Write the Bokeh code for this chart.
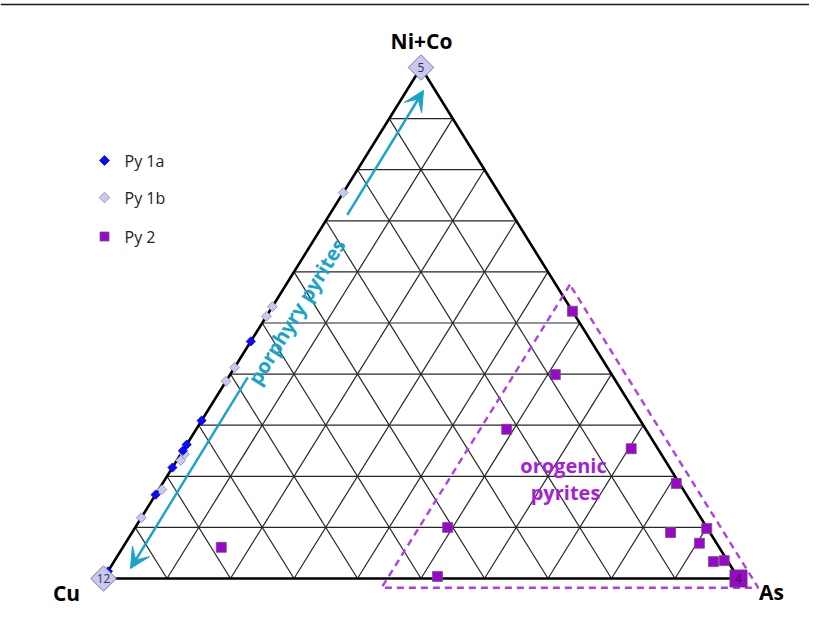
import math
from bokeh.plotting import figure
from bokeh.models import Label, Arrow, VeeHead, ColumnDataSource
from bokeh.core.properties import value
from bokeh.embed import file_html
from bokeh.resources import INLINE

# ---------------- data (percent: Cu, Ni+Co, As) ----------------
py1a_cu = [53.6, 69.1, 73.8, 75.0, 78.3, 83.6, 98.6]
py1a_nico = [46.4, 30.9, 26.2, 25.0, 21.7, 16.4, 1.4]
py1a_as = [0.0, 0.0, 0.0, 0.0, 0.0, 0.0, 0.0]

py1b_cu = [24.5, 46.8, 48.7, 58.7, 61.4, 75.1, 76.3, 82.1, 88.1]
py1b_nico = [75.5, 53.2, 51.3, 41.3, 38.6, 24.3, 23.1, 17.4, 11.9]
py1b_as = [0.0, 0.0, 0.0, 0.0, 0.0, 0.6, 0.6, 0.5, 0.0]

py2_cu = [0.0, 8.9, 21.9, 4.2, 0.5, 40.8, 47.2, 78.4, 6.2, 0.1, 2.7, 2.3, 0.5]
py2_nico = [52.3, 39.9, 29.2, 25.4, 18.6, 10.0, 0.4, 6.1, 9.0, 9.8, 6.9, 3.3, 3.5]
py2_as = [47.7, 51.2, 48.9, 70.4, 80.9, 49.2, 52.4, 15.5, 84.8, 90.1, 90.4, 94.4, 96.0]

# points lying exactly on the apices, with their counts
apex_1b_cu = [100.0, 0.0]
apex_1b_nico = [0.0, 100.0]
apex_1b_as = [0.0, 0.0]
apex_1b_count = ["12", "5"]
apex_2_cu = [0.0]
apex_2_nico = [0.0]
apex_2_as = [100.0]
apex_2_count = ["4"]

grid_levels = [0.1, 0.2, 0.3, 0.4, 0.5, 0.6, 0.7, 0.8, 0.9]

# orogenic field (fractions: minimum As, minimum Cu, minimum Ni+Co)
orogenic_as_min = 0.447
orogenic_cu_min = -0.022
orogenic_nico_min = -0.018

series_names = ["Py 1a", "Py 1b", "Py 2"]
axis_names = ["Cu", "Ni+Co", "As"]


def tern(cu, nico, as_):
    xs, ys = [], []
    for a, b, c in zip(cu, nico, as_):
        t = a + b + c
        xs.append((c + b / 2.0) / t)
        ys.append(b / t)
    return xs, ys


# page-pixel layout helpers (triangle base 635 px wide, 511 px high)
X0, Y0, SX, SY = 103, 578, 635.0, 511.0
def px(x, y):
    return (x - X0) / SX, (Y0 - y) / SY


W, H = 809, 622
p = figure(width=W, height=H, output_backend="svg", toolbar_location=None,
           x_axis_type=None, y_axis_type=None, min_border=0,
           x_range=(-X0 / SX, (W - X0) / SX), y_range=(-(H - Y0) / SY, Y0 / SY))
p.grid.visible = False
p.outline_line_color = None
p.background_fill_color = "white"

# page frame line at the top
fx0, fy0 = px(0, 4)
fx1, _ = px(W, 4)
p.line([fx0, fx1], [fy0, fy0], line_color="#1a1a1a", line_width=1.6)

# ---------------- grid ----------------
gx, gy = [], []
for k in grid_levels:
    for cu, ni, ars in (([1 - k, 0], [k, k], [0, 1 - k]),
                        ([k, k], [1 - k, 0], [0, 1 - k]),
                        ([1 - k, 0], [0, 1 - k], [k, k])):
        x, y = tern(cu, ni, ars)
        gx.append(x)
        gy.append(y)
p.multi_line(gx, gy, line_color="#262626", line_width=1.2)

tx, ty = tern([1, 0, 0, 1], [0, 1, 0, 0], [0, 0, 1, 0])
p.line(tx, ty, line_color="black", line_width=2.6)

# ---------------- orogenic dashed field ----------------
oc = [orogenic_cu_min, 1 - orogenic_nico_min - orogenic_as_min, orogenic_cu_min, orogenic_cu_min]
on = [1 - orogenic_cu_min - orogenic_as_min, orogenic_nico_min, orogenic_nico_min,
      1 - orogenic_cu_min - orogenic_as_min]
oa = [orogenic_as_min, orogenic_as_min, 1 - orogenic_cu_min - orogenic_nico_min, orogenic_as_min]
ox, oy = tern(oc, on, oa)
p.line(ox, oy, line_color="#b43ce6", line_width=2.4, line_dash="7 5")

# ---------------- porphyry arrow ----------------
cyan = "#18a3c8"
a0 = px(130, 568)
a1 = px(423, 90)
def along(t):
    return a0[0] + (a1[0] - a0[0]) * t, a0[1] + (a1[1] - a0[1]) * t
g0 = along(0.40)
g1 = along(0.74)
for gs, ae in ((g0, a0), (g1, a1)):
    p.add_layout(Arrow(x_start=gs[0], y_start=gs[1], x_end=ae[0], y_end=ae[1],
                       line_color=cyan, line_width=2.4,
                       end=VeeHead(size=20, fill_color=cyan, line_color=cyan)))
lx, ly = px(296, 311)
p.add_layout(Label(x=lx, y=ly, text="porphyry pyrites", angle=1.021,
                   text_align="center", text_baseline="middle", text_color=cyan,
                   text_font="Open Sans", text_font_style="bold", text_font_size="20px"))

ox1, oy1 = px(563, 465)
ox2, oy2 = px(565, 492)
for t, (xx, yy) in (("orogenic", (ox1, oy1)), ("pyrites", (ox2, oy2))):
    p.add_layout(Label(x=xx, y=yy, text=t, text_align="center",
                       text_baseline="middle", text_color="#a51fd6", text_font="Open Sans",
                       text_font_style="bold", text_font_size="20px"))

# ---------------- points ----------------
x2, y2 = tern(py2_cu, py2_nico, py2_as)
p.scatter(x2, y2, marker="square", size=10, fill_color="#9a06cc",
          line_color="#6a5a70", line_width=0.8)
x1b, y1b = tern(py1b_cu, py1b_nico, py1b_as)
p.scatter(x1b, y1b, marker="square", angle=math.pi / 4, size=7,
          fill_color="#c8c8f2", line_color="#8a8aaa", line_width=0.8)
x1a, y1a = tern(py1a_cu, py1a_nico, py1a_as)
p.scatter(x1a, y1a, marker="square", angle=math.pi / 4, size=6.5,
          fill_color="#0a0aff", line_color="#0000cc", line_width=0.8)

xa, ya = tern(apex_1b_cu, apex_1b_nico, apex_1b_as)
sa = ColumnDataSource(dict(x=xa, y=ya, t=apex_1b_count))
p.scatter("x", "y", source=sa, marker="square", angle=math.pi / 4, size=18,
          fill_color="#c8c8f2", line_color="#7a7a9a", line_width=1)
p.text("x", "y", text="t", source=sa, text_align="center", text_baseline="middle",
       text_font=value("Open Sans"), text_font_size="12px", text_color="#333333")
xb, yb = tern(apex_2_cu, apex_2_nico, apex_2_as)
sb = ColumnDataSource(dict(x=xb, y=yb, t=apex_2_count))
p.scatter("x", "y", source=sb, marker="square", size=17,
          fill_color="#9a06cc", line_color="#5a4a60", line_width=1)
p.text("x", "y", text="t", source=sb, text_align="center", text_baseline="middle",
       text_font=value("Open Sans"), text_font_size="12px", text_color="#222222")

# ---------------- apex labels ----------------
for name, pos in zip(axis_names, [(66, 592), (421, 40), (771, 591)]):
    xx, yy = px(*pos)
    p.add_layout(Label(x=xx, y=yy, text=name, text_align="center", text_baseline="middle",
                       text_font="Open Sans", text_font_style="bold", text_font_size="21px",
                       text_color="black"))

# ---------------- legend (drawn by hand) ----------------
leg_rows = [160, 197, 236]
leg_styles = [dict(marker="square", angle=math.pi / 4, size=7, fill_color="#0a0aff", line_color="#0000cc"),
              dict(marker="square", angle=math.pi / 4, size=7.5, fill_color="#c8c8f2", line_color="#8a8aaa"),
              dict(marker="square", angle=0, size=9, fill_color="#9a06cc", line_color="#6a5a70")]
for name, row, st in zip(series_names, leg_rows, leg_styles):
    mx, my = px(104, row)
    p.scatter([mx], [my], line_width=0.8, **st)
    tx_, ty_ = px(124, row)
    p.add_layout(Label(x=tx_, y=ty_, text=name, text_align="left", text_baseline="middle",
                       text_font="Open Sans", text_font_size="16px", text_color="#222222"))

open("out.html", "w").write(file_html(p, INLINE))
